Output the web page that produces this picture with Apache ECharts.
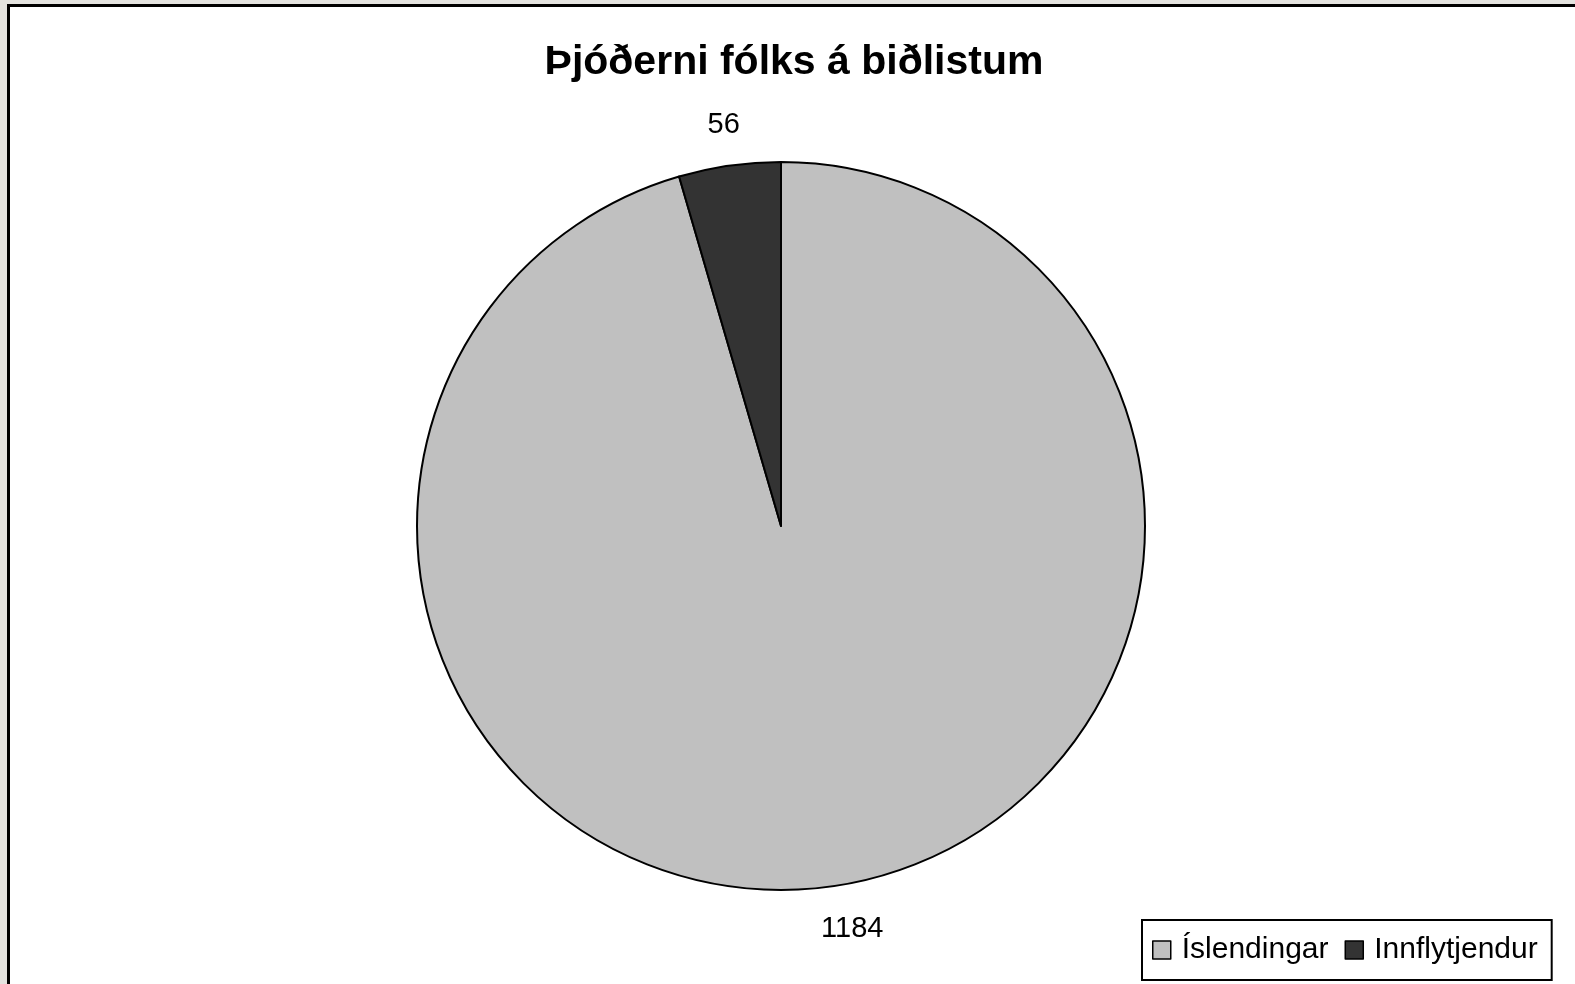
<!DOCTYPE html>
<html>
<head>
<meta charset="utf-8">
<title>Þjóðerni fólks á biðlistum</title>
<script src="https://cdn.jsdelivr.net/npm/echarts@6/dist/echarts.min.js"></script>
<style>
  html, body { margin: 0; padding: 0; overflow: hidden; background: #e4e3df; width: 1575px; height: 984px; }
  #frame { position: absolute; left: 7px; top: 4px; border: 3px solid #000; background: #fff; }
  #chart { width: 1580px; height: 990px; }
</style>
</head>
<body>
<div id="frame"><div id="chart"></div></div>
<script>
// gögn
var categories = ["Íslendingar", "Innflytjendur"];
var values = [1184, 56];
var sliceColors = ["#c0c0c0", "#333333"];

var font = "'Liberation Sans', Arial, sans-serif";
var chart = echarts.init(document.getElementById("chart"));

var pieData = categories.map(function (name, i) {
  return { name: name, value: values[i], itemStyle: { color: sliceColors[i] } };
});

var option = {
  animation: false,
  title: {
    text: "Þjóðerni fólks á biðlistum",
    left: 779,
    top: 30,
    textAlign: "center",
    textStyle: { fontFamily: font, fontSize: 41, fontWeight: "bold", color: "#000" }
  },
  legend: {
    data: categories,
    left: 1132,
    top: 913,
    orient: "horizontal",
    padding: [15, 14, 15, 10],
    itemGap: 16,
    itemWidth: 18,
    itemHeight: 18,
    borderColor: "#000",
    borderWidth: 2,
    backgroundColor: "#fff",
    icon: "rect",
    itemStyle: { borderColor: "#000", borderWidth: 1.5 },
    textStyle: { fontFamily: font, fontSize: 30, color: "#000", padding: [0, 0, 0, 6] }
  },
  series: [
    {
      // sýnilega kakan
      name: "Þjóðerni",
      type: "pie",
      center: [771, 519],
      radius: [0, 364],
      startAngle: 90,
      clockwise: true,
      label: { show: false },
      labelLine: { show: false },
      emphasis: { disabled: true },
      itemStyle: { borderColor: "#000", borderWidth: 2 },
      data: pieData
    },
    {
      // ósýnilegur hringur bara fyrir gildismerkin
      name: "merki",
      type: "pie",
      silent: true,
      center: [771, 519],
      radius: [364, 440],
      startAngle: 90,
      clockwise: true,
      itemStyle: { color: "rgba(0,0,0,0)", borderWidth: 0 },
      labelLine: { show: false },
      emphasis: { disabled: true },
      label: {
        show: true,
        position: "inside",
        formatter: "{c}",
        fontFamily: font,
        fontSize: 29,
        color: "#000"
      },
      data: categories.map(function (name, i) {
        return {
          name: name,
          value: values[i],
          label: i === 0 ? { offset: [14, 2] } : {}
        };
      })
    }
  ]
};

chart.setOption(option);
</script>
</body>
</html>
